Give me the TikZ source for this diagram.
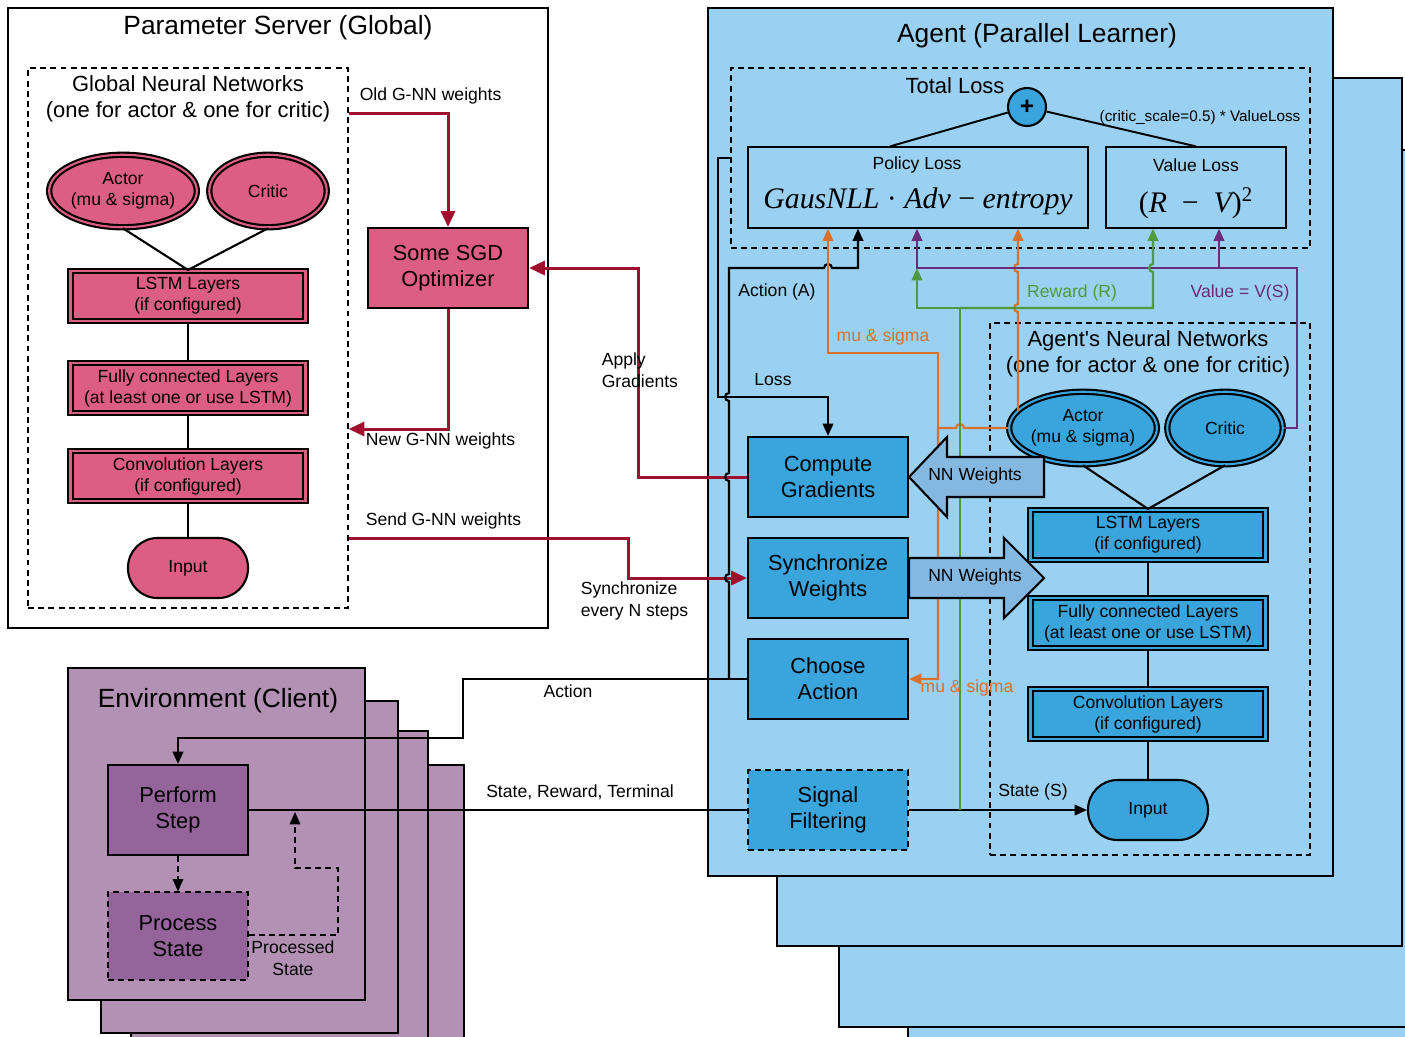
\documentclass[tikz,border=0pt]{standalone}
\usepackage{fontspec}
\setmainfont{Liberation Sans}
\newfontfamily\formulafont{Liberation Serif}
\usetikzlibrary{arrows.meta, positioning, shapes.geometric}
\definecolor{cpink}{HTML}{DD5E85}
\definecolor{cred}{HTML}{A0102E}
\definecolor{csky}{HTML}{9AD0F1}
\definecolor{cblue}{HTML}{3AA5DD}
\definecolor{cnn}{HTML}{85B8E0}
\definecolor{clilac}{HTML}{B391B5}
\definecolor{cplum}{HTML}{94649B}
\definecolor{corange}{HTML}{D9712A}
\definecolor{cgreen}{HTML}{4E9A3F}
\definecolor{cpurple}{HTML}{6A2C7A}
\tikzset{
  every picture/.style={line width=1.2pt},
  title/.style={font=\fontsize{15}{18}\selectfont},
  subtitle/.style={font=\fontsize{12.5}{15}\selectfont, align=center},
  lbl/.style={font=\fontsize{10}{12.5}\selectfont, align=left, inner sep=1pt},
  box/.style={draw, fill=#1, align=center, font=\fontsize{12.4}{14.8}\selectfont, minimum width=3.2cm, minimum height=1.6cm},
  box/.default=cblue,
  layer/.style={draw, double=#1, double distance=1.2pt, fill=#1, align=center, font=\fontsize{10}{12}\selectfont, minimum width=4.7cm, minimum height=1cm, inner sep=1pt},
  net/.style={ellipse, draw, double=#1, double distance=1.2pt, fill=#1, align=center, font=\fontsize{10}{12}\selectfont, inner sep=0pt, minimum height=1.45cm},
  inbox/.style={draw, fill=#1, rounded corners=0.59cm, minimum width=2.4cm, minimum height=1.2cm, font=\fontsize{10}{12}\selectfont},
  region/.style={draw, line width=0.7pt, dash pattern=on 3.4pt off 2.4pt},
  wire/.style={-{Triangle[length=7pt, width=6pt]}},
  redwire/.style={-{Triangle[length=9pt, width=8pt]}, draw=cred, line width=1.7pt},
  owire/.style={wire, draw=corange},
  gwire/.style={wire, draw=cgreen},
  pwire/.style={wire, draw=cpurple},
  nnarrow/.style={draw, fill=cnn},
  lossbox/.style={draw, fill=csky, line width=0.7pt, minimum height=1.62cm},
  eq/.style={font=\fontsize{17}{20}\selectfont\formulafont\itshape},
}

\begin{document}
\begin{tikzpicture}[x=0.02cm, y=-0.02cm]
  \useasboundingbox (0,0) rectangle (1405,1036);
  \clip (0,0) rectangle (1405,1036);

  % parameter server
  \node[draw, fill=white, minimum width=10.8cm, minimum height=12.4cm] (ps) at (278,318) {};
  \node[title] (pstitle) at (278,28) {Parameter Server (Global)};
  \node[region, minimum width=6.4cm, minimum height=10.8cm] (gnn) at (188,338) {};
  \node[subtitle] (gnntitle) at (188,99) {Global Neural Networks\\(one for actor \& one for critic)};
  \node[net=cpink, minimum width=2.93cm] (gactor) at (123,191) {Actor\\(mu \& sigma)};
  \node[net=cpink, minimum width=2.35cm] (gcritic) at (268,191) {Critic};
  \node[layer=cpink] (glstm) at (188,296) {LSTM Layers\\(if configured)};
  \node[layer=cpink] (gfc) at (188,388) {Fully connected Layers\\(at least one or use LSTM)};
  \node[layer=cpink] (gconv) at (188,476) {Convolution Layers\\(if configured)};
  \node[inbox=cpink] (ginput) at (188,568) {Input};
  \node[box=cpink] (sgd) at (448,268) {Some SGD\\Optimizer};
  \draw (gactor.south) -- (glstm.north) -- (gcritic.south);
  \draw (glstm) -- (gfc) -- (gconv) -- (ginput);

  % environment stack
  \foreach \x/\y in {167/765, 131/731, 101/701} {
    \draw[fill=clilac] (\x,\y) rectangle ++(297,332);
  }
  \node[draw, fill=clilac, minimum width=5.94cm, minimum height=6.64cm] (env) at (216.5,834) {};
  \node[title] (envtitle) at (218,701) {Environment (Client)};
  \node[box=cplum, minimum width=2.8cm, minimum height=1.8cm] (perform) at (178,810) {Perform\\Step};
  \node[box=cplum, region, minimum width=2.8cm, minimum height=1.76cm] (process) at (178,936) {Process\\State};

  % agent stack
  \foreach \x/\y/\w/\h in {908/218/632/880, 839/150/631/877, 777/78/625/868} {
    \draw[fill=csky] (\x,\y) rectangle ++(\w,\h);
  }
  \node[draw, fill=csky, minimum width=12.5cm, minimum height=17.36cm] (agent) at (1020.5,442) {};
  \node[title] (agenttitle) at (1037,36) {Agent (Parallel Learner)};
  \node[region, minimum width=11.58cm, minimum height=3.6cm] (total) at (1020.5,158) {};
  \node[subtitle] (totaltxt) at (955,86) {Total Loss};
  \node[circle, draw, fill=cblue, minimum size=0.76cm, inner sep=0pt, font=\bfseries\fontsize{14}{14}\selectfont] (plus) at (1027,107) {+};
  \node[lossbox, minimum width=6.8cm] (policy) at (918,187.5) {};
  \node[lbl] (policytxt) at (917,165) {Policy Loss};
  \node[eq] (policyeq) at (918,201) {GausNLL {\upshape ·} Adv {\upshape −} entropy};
  \node[lossbox, minimum width=3.6cm] (value) at (1196,187.5) {};
  \node[lbl] (valuetxt) at (1196,165) {Value Loss};
  \node[eq] (valueeq) at (1196,203) {{\upshape(}R \ {\upshape −} \ V{\upshape)}\textsuperscript{\upshape 2}};
  \draw[line width=1.1pt] (plus) -- (policy.north -| 890,0);
  \draw[line width=1.1pt] (plus) -- (value.north);
  \node[lbl, font=\fontsize{8.7}{10}\selectfont] (scaletxt) at (1200,118) {(critic\_scale=0.5) * ValueLoss};

  \node[box] (compute) at (828,477) {Compute\\Gradients};
  \node[box] (sync) at (828,578) {Synchronize\\Weights};
  \node[box] (choose) at (828,679) {Choose\\Action};
  \node[box, region] (signal) at (828,810) {Signal\\Filtering};

  % agent networks
  \node[region, minimum width=6.4cm, minimum height=10.64cm] (ann) at (1150,589) {};
  \node[subtitle] (anntitle) at (1148,354) {Agent\textquotesingle s Neural Networks\\(one for actor \& one for critic)};
  \node[net=cblue, minimum width=2.89cm] (actor) at (1083,428) {Actor\\(mu \& sigma)};
  \node[net=cblue, minimum width=2.31cm] (critic) at (1225,428) {Critic};
  \node[layer=cblue] (lstm) at (1148,535) {LSTM Layers\\(if configured)};
  \node[layer=cblue] (fc) at (1148,623) {Fully connected Layers\\(at least one or use LSTM)};
  \node[layer=cblue] (conv) at (1148,714) {Convolution Layers\\(if configured)};
  \node[inbox=cblue] (input) at (1148,810) {Input};
  \draw (actor.south) -- (lstm.north) -- (critic.south);
  \draw (lstm) -- (fc) -- (conv) -- (input);

  % weights between server and agent
  \draw[redwire] (gnn.east |- 0,113) -- (448,113) -- (sgd.north);
  \node[lbl, anchor=west] (oldtxt) at (357,96) {Old G-NN weights};
  \draw[redwire] (sgd.south) -- (448,429) -- (gnn.east |- 0,429);
  \node[lbl, anchor=west] (newtxt) at (363,441) {New G-NN weights};
  \draw[redwire] (gnn.east |- 0,538) -- (628,538) -- (628,578) -- (sync.west);
  \node[lbl, anchor=west] (sendtxt) at (363,521) {Send G-NN weights};
  \node[lbl, anchor=west] (synctxt) at (578,601) {Synchronize\\every N steps};
  \draw[redwire] (compute.west) -- (638,477) -- (638,268) -- (sgd.east);
  \node[lbl, anchor=west] (applytxt) at (599,370) {Apply\\Gradients};

  % environment loop
  \draw[wire] (choose.west) -- (463,679) -- (463,738) -- (perform.north |- 0,738) -- (perform.north);
  \node[lbl] (acttxt) at (568,691) {Action};
  \draw (perform.east) -- (signal.west);
  \node[lbl] (statetxt) at (580,792) {State, Reward, Terminal};
  \draw[wire] (signal.east) -- (input.west);
  \node[lbl] (stxt) at (1033,792) {State (S)};
  \draw[wire, region] (perform) -- (process);
  \draw[wire, region] (process.east |- 0,935) -- (338,935) -- (338,868) -- (295,868) -- (295,812);
  \node[lbl, align=center] (proctxt) at (293,958) {Processed\\State};

  % loss and action into the losses
  \draw[wire] (total.west) -- (718,158) -- (718,397) -- (compute.north |- 0,397) -- (compute.north);
  \node[lbl] (losstxt) at (773,380) {Loss};
  \draw[wire] (choose.west -| 729,0) -- (729,582) arc[start angle=270, end angle=90, radius=0.08cm]
    -- (729,481) arc[start angle=270, end angle=90, radius=0.08cm]
    -- (729,401) arc[start angle=270, end angle=90, radius=0.08cm]
    -- (729,268) -- (824,268) arc[start angle=180, end angle=0, radius=0.08cm]
    -- (858,268) -- (policy.south -| 858,0);
  \node[lbl] (acttxt2) at (777,292) {Action (A)};

  % mu & sigma
  \draw[owire] (actor.west) -- (964,428) arc[start angle=0, end angle=180, radius=0.08cm]
    -- (938,428) -- (938,679) -- (choose.east);
  \draw[owire] (938,428) -- (938,353) -- (828,353) -- (policy.south -| 828,0);
  \draw[owire] (1018,0 |- actor.166) -- (1018,312) arc[start angle=270, end angle=90, radius=0.08cm]
    -- (1018,272) arc[start angle=270, end angle=90, radius=0.08cm] -- (policy.south -| 1018,0);
  \node[lbl, text=corange] (mutxt) at (883,337) {mu \& sigma};
  \node[lbl, text=corange] (mutxt2) at (967,688) {mu \& sigma};

  % value
  \draw[pwire] (critic.east) -- (1297,428) -- (1297,268) -- (917,268) -- (policy.south -| 917,0);
  \draw[pwire] (1219,268) -- (value.south -| 1219,0);
  \node[lbl, text=cpurple] (valtxt) at (1240,293) {Value = V(S)};

  % reward
  \draw[gwire] (960,810) -- (960,308) -- (917,308) -- (917,268);
  \draw[gwire] (960,308) -- (1153,308) -- (1153,272) arc[start angle=270, end angle=90, radius=0.08cm]
    -- (value.south -| 1153,0);
  \node[lbl, text=cgreen] (rewtxt) at (1072,293) {Reward (R)};

  % NN weights
  \draw[nnarrow] (compute.east) -- (947,437) -- (947,457) -- (1044,457) -- (1044,497) -- (947,497) -- (947,517) -- cycle;
  \node[lbl] (nnin) at (975,476) {NN Weights};
  \draw[nnarrow] (sync.east |- 0,558) -- (1004,558) -- (1004,538) -- (1044,578) -- (1004,618) -- (1004,598) -- (sync.east |- 0,598) -- cycle;
  \node[lbl] (nnout) at (975,577) {NN Weights};
\end{tikzpicture}
\end{document}
